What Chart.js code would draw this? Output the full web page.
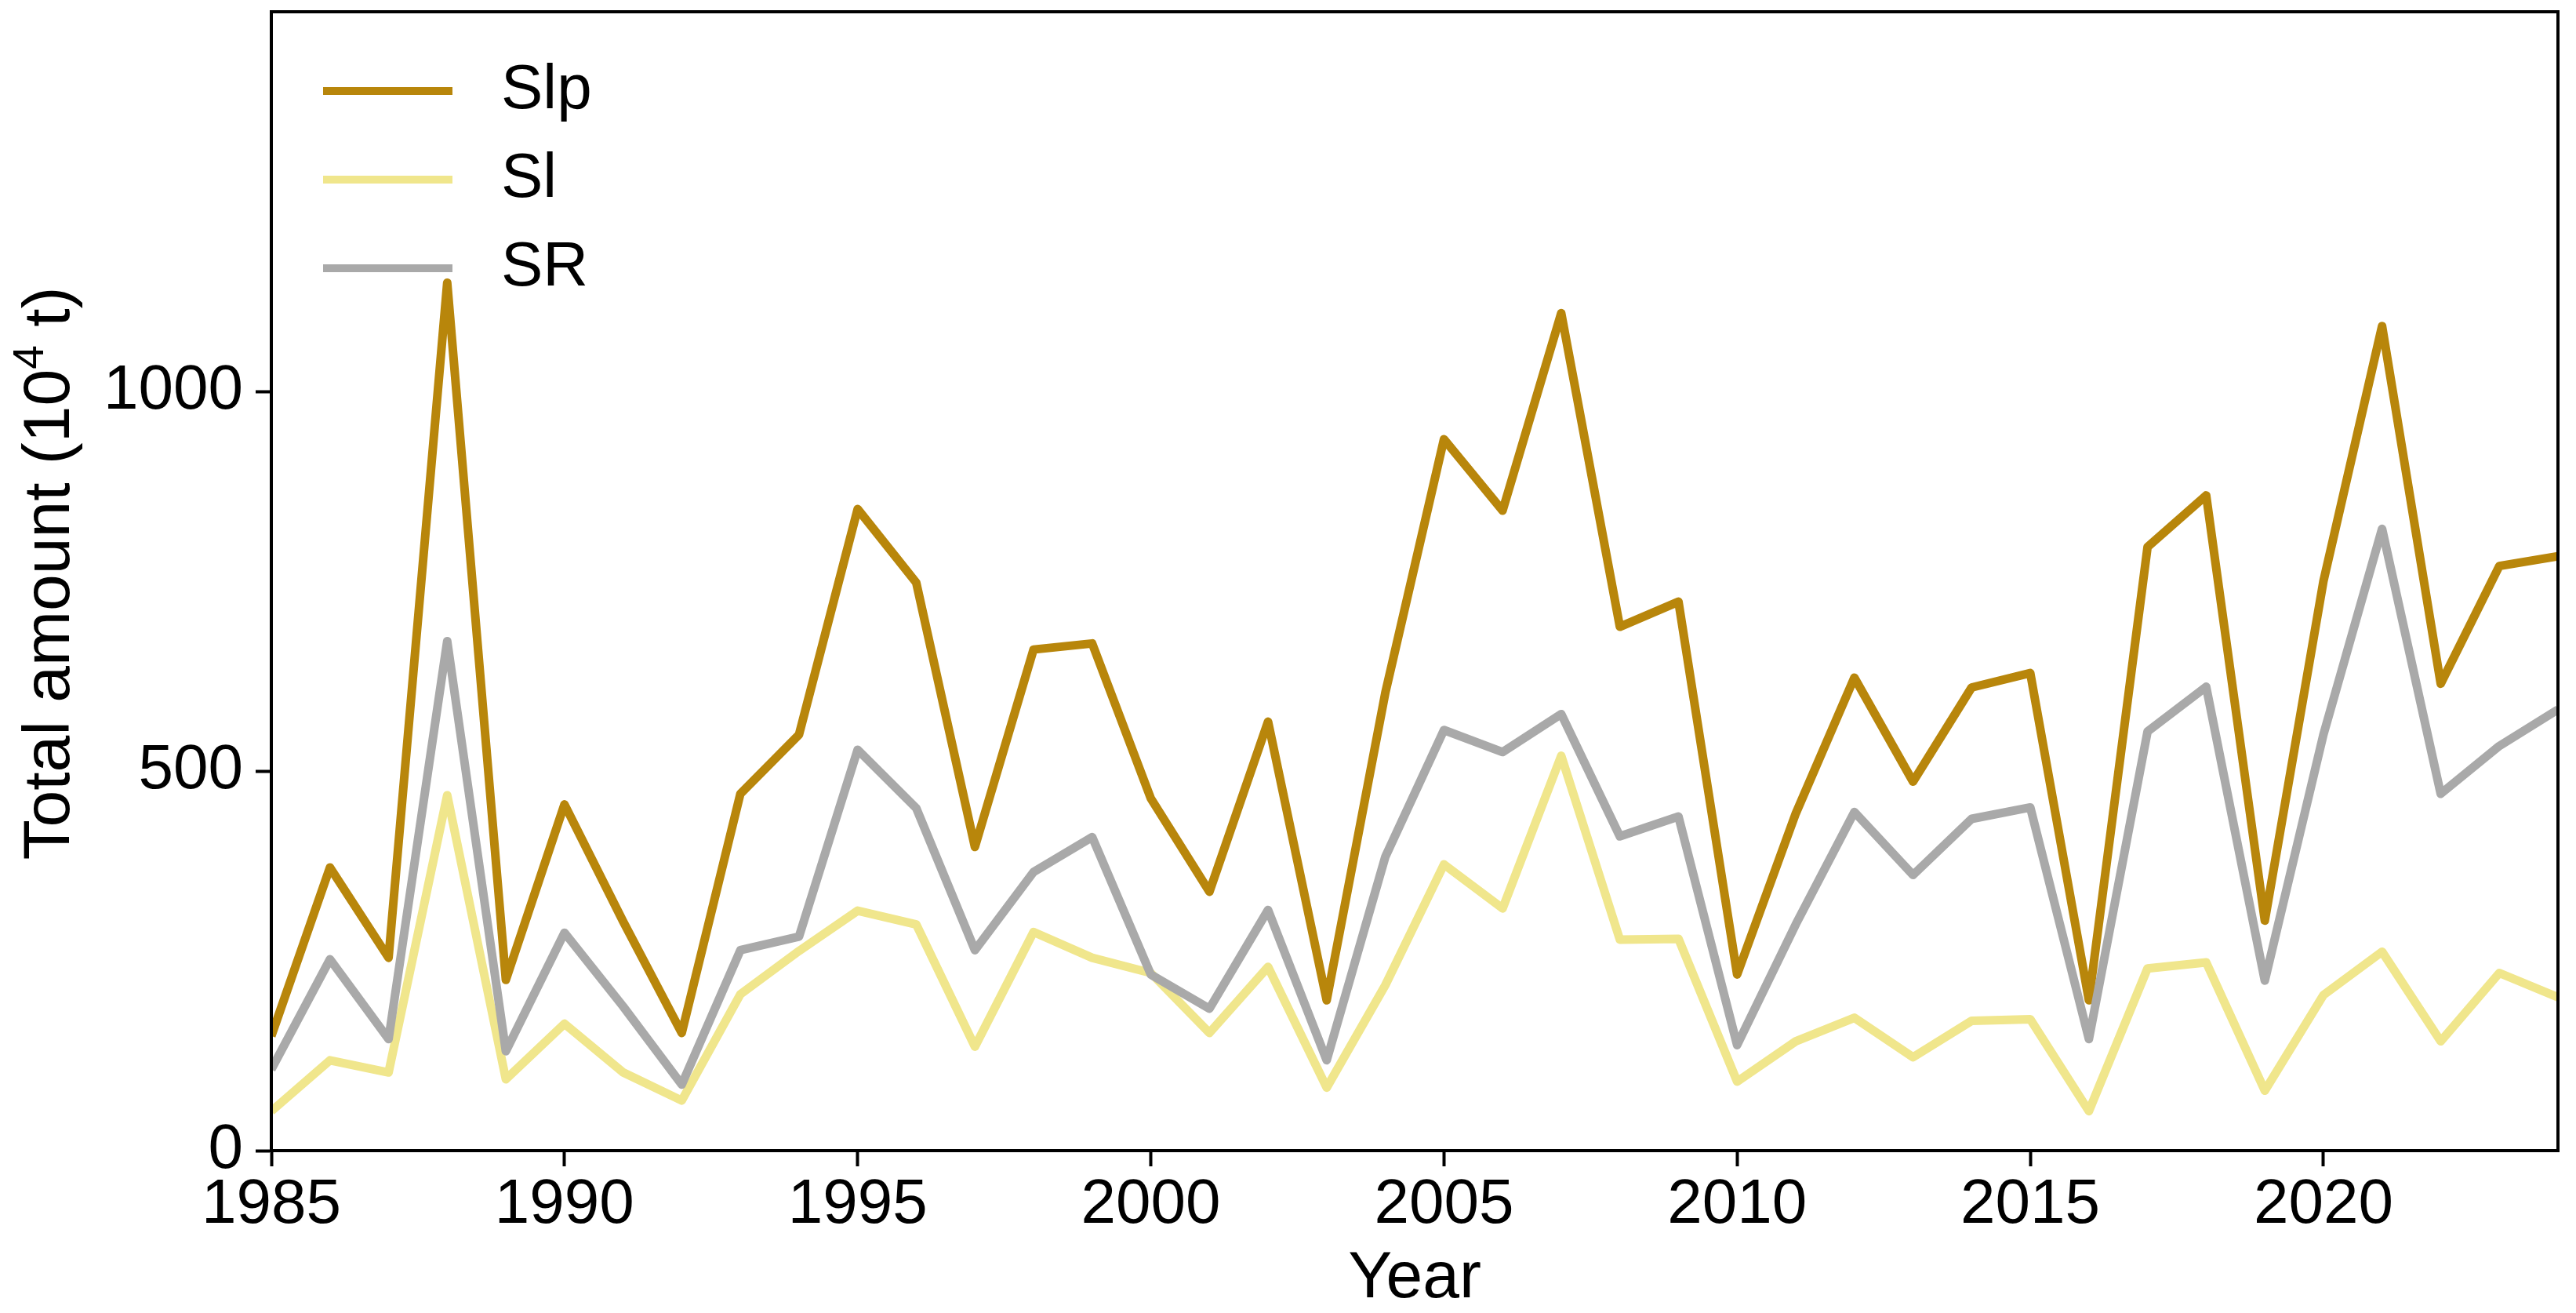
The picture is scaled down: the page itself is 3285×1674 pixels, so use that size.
<!DOCTYPE html>
<html>
<head>
<meta charset="utf-8">
<script src="https://cdn.jsdelivr.net/npm/chart.js@4.4.1/dist/chart.umd.min.js"></script>
<style>
  html, body { margin: 0; padding: 0; background: #fff; }
  #wrap { width: 3285px; height: 1674px; }
</style>
</head>
<body>
<div id="wrap"><canvas id="chart" width="3285" height="1674"></canvas></div>
<script>
// ===== data =====
const years = [1985, 1986, 1987, 1988, 1989, 1990, 1991, 1992, 1993, 1994,
  1995, 1996, 1997, 1998, 1999, 2000, 2001, 2002, 2003, 2004,
  2005, 2006, 2007, 2008, 2009, 2010, 2011, 2012, 2013, 2014,
  2015, 2016, 2017, 2018, 2019, 2020, 2021, 2022, 2023, 2024];

const slp = [151, 373, 254, 1143, 225, 456, 302, 155, 470, 548,
  845, 748, 400, 660, 668, 464, 341, 565, 198, 603,
  937, 843, 1103, 690, 723, 232, 444, 623, 486, 610,
  629, 198, 795, 863, 303, 750, 1086, 615, 770, 783];

const sl = [52, 119, 103, 468, 94, 167, 103, 66, 206, 263,
  316, 298, 137, 288, 254, 234, 155, 242, 83, 218,
  377, 319, 520, 278, 279, 91, 144, 175, 123, 171,
  173, 52, 240, 248, 79, 205, 262, 144, 234, 202];

const sr = [107, 252, 147, 671, 131, 287, 190, 87, 264, 282,
  528, 451, 264, 367, 413, 232, 187, 317, 119, 387,
  554, 525, 575, 414, 440, 139, 298, 446, 363, 437,
  452, 147, 552, 611, 224, 548, 819, 470, 533, 581];

const seriesNames = ["Slp", "Sl", "SR"];
const xTicks = [1985, 1990, 1995, 2000, 2005, 2010, 2015, 2020];
const yTicks = [0, 500, 1000];

const colors = ["#B8860B", "#F0E68C", "#A9A9A9"];
const FONT = "'Liberation Sans', Arial, sans-serif";

const toPoints = arr => years.map((yr, i) => ({ x: yr, y: arr[i] }));

// frame, legend and y title (with superscript) drawn by hand
const extrasPlugin = {
  id: "extras",
  afterDatasetsDraw(chart) {
    const { ctx, chartArea: a } = chart;
    ctx.save();
    ctx.strokeStyle = "#000";
    ctx.lineWidth = 4;
    ctx.strokeRect(a.left, a.top, a.right - a.left, a.bottom - a.top);

    // ----- legend -----
    ctx.font = "80px " + FONT;
    ctx.textBaseline = "middle";
    ctx.textAlign = "left";
    ctx.lineCap = "butt";
    chart.data.datasets.forEach((ds, i) => {
      const y = a.top + 101 + i * 113;
      ctx.strokeStyle = ds.borderColor;
      ctx.lineWidth = 10;
      ctx.beginPath();
      ctx.moveTo(a.left + 66, y);
      ctx.lineTo(a.left + 231, y);
      ctx.stroke();
      ctx.fillStyle = "#000";
      ctx.fillText(ds.label, a.left + 293, y);
    });
    ctx.restore();
  },
  afterDraw(chart) {
    const { ctx, chartArea: a } = chart;
    const main = "84px " + FONT;
    const sup = "55px " + FONT;
    const parts = [
      { t: "Total amount (10", f: main, dy: 0 },
      { t: "4", f: sup, dy: 33 },
      { t: " t)", f: main, dy: 0 }
    ];
    ctx.save();
    let total = 0;
    parts.forEach(p => { ctx.font = p.f; p.w = ctx.measureText(p.t).width; total += p.w; });
    const cy = (a.top + a.bottom) / 2 - 10;
    ctx.translate(88, cy);
    ctx.rotate(-Math.PI / 2);
    ctx.fillStyle = "#000";
    ctx.textBaseline = "alphabetic";
    ctx.textAlign = "left";
    let x = -total / 2;
    parts.forEach(p => {
      ctx.font = p.f;
      ctx.fillText(p.t, x, -p.dy);
      x += p.w;
    });
    ctx.restore();
  }
};

const mkDataset = (i, arr, order) => ({
  label: seriesNames[i],
  data: toPoints(arr),
  borderColor: colors[i],
  backgroundColor: colors[i],
  borderWidth: 11,
  pointRadius: 0,
  tension: 0,
  borderJoinStyle: "round",
  order: order
});

new Chart(document.getElementById("chart"), {
  type: "line",
  data: {
    datasets: [
      mkDataset(0, slp, 3),
      mkDataset(1, sl, 2),
      mkDataset(2, sr, 1)
    ]
  },
  options: {
    responsive: false,
    animation: false,
    devicePixelRatio: 1,
    layout: { padding: { left: 0, right: 23, top: 15, bottom: 0 } },
    plugins: {
      legend: { display: false },
      tooltip: { enabled: false }
    },
    scales: {
      x: {
        type: "linear",
        min: 1985,
        max: 2024,
        afterBuildTicks: s => { s.ticks = xTicks.map(v => ({ value: v })); },
        afterFit: s => { s.height = 207; s.paddingLeft = 0; s.paddingRight = 0; },
        grid: { drawOnChartArea: false, drawTicks: true, tickLength: 20, tickWidth: 4, tickColor: "#000" },
        border: { display: true, color: "#000", width: 4 },
        ticks: {
          color: "#000",
          font: { family: FONT, size: 80 },
          padding: 2,
          maxRotation: 0,
          callback: v => String(v)
        },
        title: {
          display: true,
          text: "Year",
          color: "#000",
          font: { family: FONT, size: 84, lineHeight: 1 },
          padding: { top: 0, bottom: 1 }
        }
      },
      y: {
        min: 0,
        max: 1500,
        afterBuildTicks: s => { s.ticks = yTicks.map(v => ({ value: v })); },
        afterFit: s => { s.width = 346; s.paddingTop = 0; s.paddingBottom = 0; },
        grid: { drawOnChartArea: false, drawTicks: true, tickLength: 20, tickWidth: 4, tickColor: "#000" },
        border: { display: true, color: "#000", width: 4 },
        ticks: {
          color: "#000",
          font: { family: FONT, size: 80 },
          padding: 16,
          callback: v => String(v)
        },
        title: { display: false }
      }
    }
  },
  plugins: [extrasPlugin]
});
</script>
</body>
</html>
